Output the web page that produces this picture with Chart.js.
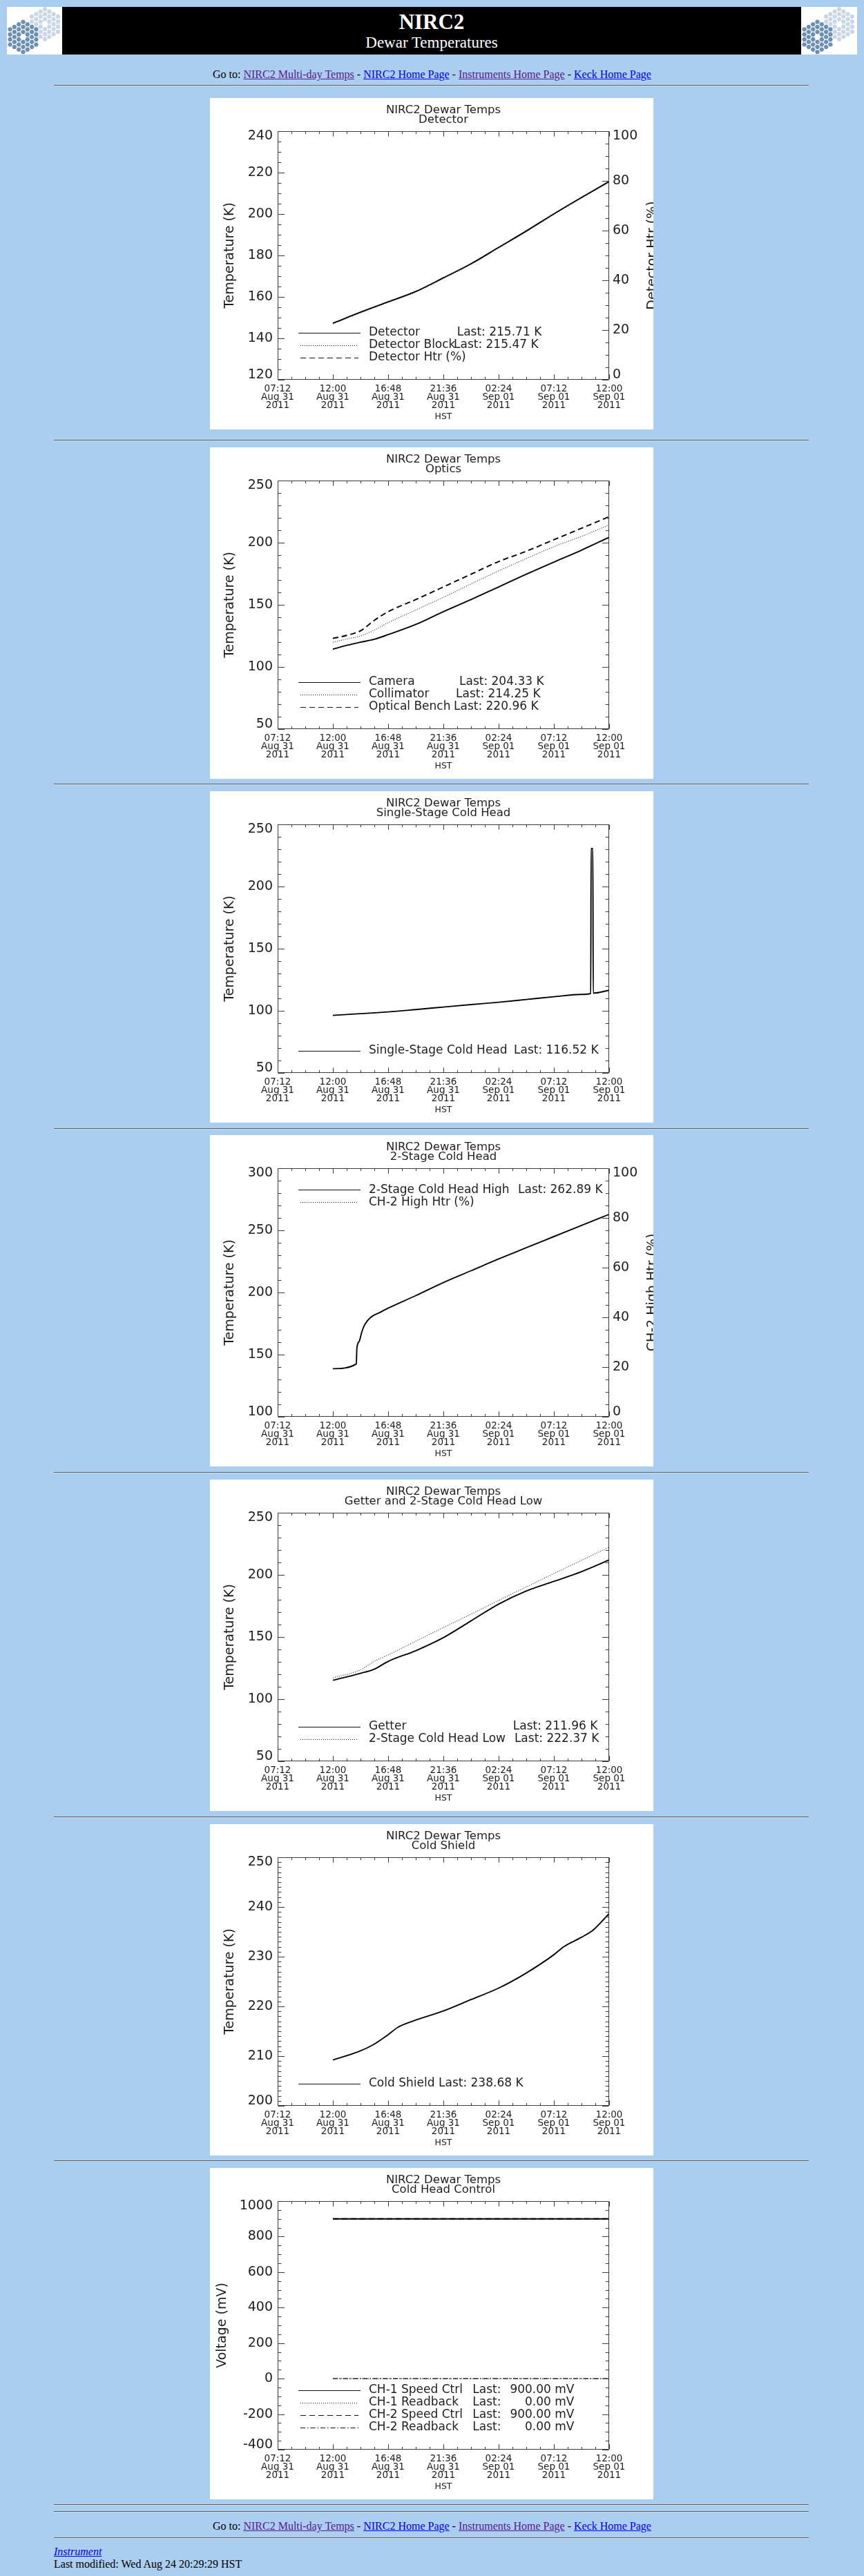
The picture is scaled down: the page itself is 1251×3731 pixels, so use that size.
<!DOCTYPE html>
<html lang="en">
<head>
<meta charset="utf-8">
<title>NIRC2 Dewar Temperatures</title>
<script src="https://cdn.jsdelivr.net/npm/chart.js@4.4.1/dist/chart.umd.min.js"></script>
<style>
html, body { margin:0; padding:0; background:#abcdef; }
body { width:1251px; height:3731px; position:relative; overflow:hidden; font-family:'Liberation Serif','Times New Roman',serif; color:#000; }
.logo { position:absolute; top:10px; width:80px; height:69px; background:#fff; overflow:hidden; }
.banner { position:absolute; left:90px; top:10px; width:1070px; height:69px; background:#000; color:#fff; text-align:center; }
.banner .t1 { position:absolute; left:0; right:0; top:4px; font-size:31px; line-height:36px; font-weight:bold; }
.banner .t2 { position:absolute; left:0; right:0; top:39px; font-size:23px; line-height:26px; }
.nav { position:absolute; left:0; width:1251px; text-align:center; font-size:16px; line-height:18px; white-space:nowrap; }
a { color:#0000ee; text-decoration:underline; }
a.visited { color:#551a8b; }
hr { position:absolute; left:78px; width:1093px; margin:0; height:0; border:0; border-top:1px solid #5e5e5e; border-bottom:1px solid #d0dcea; }
.panel { position:absolute; left:304px; width:642px; height:480px; background:#fff; overflow:hidden; }
.panel canvas { display:block; }
.foot { position:absolute; left:78px; font-size:16px; line-height:18px; white-space:nowrap; }
</style>
</head>
<body>
<div class="logo" style="left:10px"><svg class="keck" width="80" height="69"></svg></div>
<div class="banner"><div class="t1">NIRC2</div><div class="t2">Dewar Temperatures</div></div>
<div class="logo" style="left:1160px;width:81px"><svg class="keck" width="81" height="69"></svg></div>

<div class="nav" style="top:99px">Go to: <a class="visited" href="#">NIRC2 Multi-day Temps</a> - <a href="#">NIRC2 Home Page</a> - <a class="visited" href="#">Instruments Home Page</a> - <a href="#">Keck Home Page</a></div>
<hr style="top:123px">

<div class="panel" style="top:142px"><canvas id="c1" width="642" height="480"></canvas></div>
<hr style="top:637px">
<div class="panel" style="top:648px"><canvas id="c2" width="642" height="480"></canvas></div>
<hr style="top:1135px">
<div class="panel" style="top:1146px"><canvas id="c3" width="642" height="480"></canvas></div>
<hr style="top:1634px">
<div class="panel" style="top:1644px"><canvas id="c4" width="642" height="480"></canvas></div>
<hr style="top:2132px">
<div class="panel" style="top:2143px"><canvas id="c5" width="642" height="480"></canvas></div>
<hr style="top:2631px">
<div class="panel" style="top:2642px"><canvas id="c6" width="642" height="480"></canvas></div>
<hr style="top:3129px">
<div class="panel" style="top:3140px"><canvas id="c7" width="642" height="480"></canvas></div>
<hr style="top:3627px">
<hr style="top:3637px">
<div class="nav" style="top:3650px">Go to: <a class="visited" href="#">NIRC2 Multi-day Temps</a> - <a href="#">NIRC2 Home Page</a> - <a class="visited" href="#">Instruments Home Page</a> - <a href="#">Keck Home Page</a></div>
<hr style="top:3675px">
<div class="foot" style="top:3687px"><a href="#"><i>Instrument</i></a></div>
<div class="foot" style="top:3705px">Last modified: Wed Aug 24 20:29:29 HST</div>

<script>
// ---------- tick labels (x axis: minutes after 07:12 HST, Aug 31 2011) ----------
const xTickTimes = ['07:12', '12:00', '16:48', '21:36', '02:24', '07:12', '12:00'];
const xTickDates = ['Aug 31', 'Aug 31', 'Aug 31', 'Aug 31', 'Sep 01', 'Sep 01', 'Sep 01'];
const xTickYears = ['2011', '2011', '2011', '2011', '2011', '2011', '2011'];

// ---------- Detector ----------
const detTimes = [288, 432, 576, 720, 864, 1008, 1152, 1296, 1440, 1584, 1728];
const detectorTemp      = [147.3, 152.6, 157.6, 162.6, 169.2, 176.0, 183.9, 191.8, 200.1, 208.0, 215.71];
const detectorBlockTemp = [147.0, 152.3, 157.3, 162.3, 168.9, 175.7, 183.6, 191.5, 199.8, 207.7, 215.47];
const htrTimes = [288, 1728];
const detectorHtr = [0, 0];

// ---------- Optics ----------
const optTimes = [288, 360, 432, 504, 576, 720, 864, 1008, 1152, 1296, 1440, 1584, 1728];
const cameraTemp     = [114.3, 117.4, 119.9, 122.3, 126.0, 134.2, 144.5, 154.2, 164.4, 174.6, 184.4, 194.0, 204.33];
const collimatorTemp = [119.9, 122.4, 124.9, 129.7, 135.6, 145.8, 156.0, 166.8, 177.3, 187.2, 196.8, 205.1, 214.25];
const benchTemp      = [123.0, 125.4, 129.1, 137.5, 144.5, 154.2, 164.4, 174.6, 184.8, 193.1, 202.4, 211.6, 220.96];

// ---------- Single-Stage Cold Head ----------
const sscTimes = [288, 432, 576, 720, 864, 1008, 1152, 1296, 1440, 1584, 1632, 1634, 1643, 1645, 1728];
const sscTemp  = [96.3, 97.7, 99.1, 101.0, 103.0, 105.0, 106.9, 109.1, 111.3, 113.2, 113.9, 230.6, 230.6, 114.2, 116.52];

// ---------- 2-Stage Cold Head ----------
const ch2Times = [288, 410, 413, 425, 440, 455, 485, 530, 576, 720, 864, 1008, 1152, 1296, 1440, 1584, 1728];
const ch2HighTemp = [138.7, 142.4, 155.0, 160.6, 168.9, 174.4, 180.0, 183.7, 187.4, 197.5, 208.0, 217.5, 227.0, 236.0, 245.0, 254.0, 262.89];
const ch2HighHtr = [0, 0];

// ---------- Getter and 2-Stage Cold Head Low ----------
const getterTimes = [288, 432, 504, 576, 720, 864, 1008, 1152, 1296, 1440, 1584, 1728];
const getterTemp = [115.2, 120.8, 124.1, 130.4, 139.0, 149.5, 163.0, 176.5, 187.0, 194.8, 202.6, 211.96];
const ch2LowTemp = [117.1, 123.6, 130.5, 135.6, 146.6, 157.6, 168.4, 179.4, 190.3, 201.1, 211.7, 222.37];

// ---------- Cold Shield ----------
const shieldTimes = [288, 425, 500, 571, 627, 716, 861, 1007, 1152, 1295, 1440, 1492, 1582, 1649, 1728];
const shieldTemp  = [209.22, 210.94, 212.33, 214.18, 215.80, 217.19, 219.05, 221.36, 223.68, 226.69, 230.40, 232.02, 233.87, 235.50, 238.68];

// ---------- Cold Head Control ----------
const ctrlTimes = [288, 1728];
const ch1SpeedCtrl = [900, 900];
const ch1Readback = [0, 0];
const ch2SpeedCtrl = [900, 900];
const ch2Readback = [0, 0];

// ---------- styling ----------
const FONT = "'DejaVu Sans', sans-serif";
const INK = '#1e1e1e';
const LINE = '#000000';
const AXIS = '#3a3a3a';
const SOLID = [], DOT = [1, 2], DASH = [8, 5], DASHDOT = [7, 3, 1.5, 3];
const X_MIN = 0, X_MAX = 1728, X_STEP = 288, X_MINOR = 72;

Chart.defaults.font.family = FONT;
Chart.defaults.color = INK;

const pts = (xs, ys) => xs.map((x, i) => ({ x, y: ys[i] }));
function series(label, xs, ys, dash, extra) {
  const dotted = dash.length === 2 && dash[0] === 1;
  return Object.assign({
    label, data: pts(xs, ys), borderColor: dotted ? '#333' : LINE, borderDash: dash,
    borderWidth: dotted ? 1.2 : 1.9,
    pointRadius: 0, fill: false, cubicInterpolationMode: 'monotone',
    showLast: true, unit: 'K'
  }, extra || {});
}

function walk(min, max, step, minor, fn) {
  const n = Math.round((max - min) / minor);
  for (let i = 0; i <= n; i++) {
    const v = min + i * minor;
    const k = (v - min) / step;
    fn(v, Math.abs(k - Math.round(k)) < 1e-6);
  }
}

// IDL-style box, inward major/minor ticks, right-hand title and in-plot legend
const idlPlugin = {
  id: 'idl',
  afterDraw(chart, args, o) {
    const ctx = chart.ctx, a = chart.chartArea;
    const sx = chart.scales.x, sy = chart.scales.y, sy1 = chart.scales.y1;
    const L = Math.round(a.left) + 0.5, R = Math.round(a.right) - 0.5;
    const T = Math.round(a.top) + 0.5, B = Math.round(a.bottom) - 0.5;
    ctx.save();
    ctx.setLineDash([]);
    ctx.strokeStyle = AXIS; ctx.lineWidth = 1;
    ctx.beginPath();
    ctx.rect(L, T, R - L, B - T);
    walk(sx.min, sx.max, X_STEP, X_MINOR, (v, major) => {
      const p = Math.round(sx.getPixelForValue(v)) + 0.5, len = major ? 7.2 : 3.6;
      ctx.moveTo(p, B); ctx.lineTo(p, B - len);
      ctx.moveTo(p, T); ctx.lineTo(p, T + len);
    });
    const yTicks = (scale, step, minor, side) => walk(scale.min, scale.max, step, minor, (v, major) => {
      const p = Math.round(scale.getPixelForValue(v)) + 0.5, len = major ? 9.6 : 4.8;
      if (side !== 'right') { ctx.moveTo(L, p); ctx.lineTo(L + len, p); }
      if (side !== 'left') { ctx.moveTo(R, p); ctx.lineTo(R - len, p); }
    });
    if (sy1) { yTicks(sy, o.yStep, o.yMinor, 'left'); yTicks(sy1, o.y1Step, o.y1Minor, 'right'); }
    else yTicks(sy, o.yStep, o.yMinor, 'both');
    ctx.stroke();

    if (o.rightTitle) {
      ctx.save();
      ctx.translate(a.right + 63, (a.top + a.bottom) / 2);
      ctx.rotate(-Math.PI / 2);
      ctx.font = '19px ' + FONT; ctx.fillStyle = INK;
      ctx.textAlign = 'center'; ctx.textBaseline = 'middle';
      ctx.fillText(o.rightTitle, 0, 0);
      ctx.restore();
    }

    const lg = o.legend;
    if (lg) {
      const ds = chart.data.datasets, n = ds.length;
      ds.forEach((d, i) => {
        const y = lg.anchor === 'top' ? a.top + 31.3 + i * 18 : a.bottom - 32.5 - (n - 1 - i) * 18;
        const yy = Math.round(y) + 0.5;
        ctx.beginPath();
        ctx.setLineDash(d.borderDash || []);
        ctx.lineWidth = 1; ctx.strokeStyle = '#111';
        const dashed = (d.borderDash || []).length > 0;
        ctx.moveTo(a.left + (dashed ? 33 : 30), yy); ctx.lineTo(a.left + (dashed ? 117 : 120), yy);
        ctx.stroke();
        ctx.setLineDash([]);
        ctx.font = '17px ' + FONT; ctx.fillStyle = INK; ctx.textBaseline = 'middle';
        ctx.textAlign = 'left';
        ctx.fillText(d.label, a.left + 132, y);
        if (d.showLast) {
          const last = d.data[d.data.length - 1].y.toFixed(2);
          if (lg.valueX) {
            ctx.fillText('Last:', lg.lastX[i], y);
            ctx.textAlign = 'right';
            ctx.fillText(last + ' ' + d.unit, lg.valueX, y);
          } else {
            ctx.fillText('Last: ' + last + ' ' + d.unit, lg.lastX[i], y);
          }
        }
      });
    }
    ctx.restore();
  }
};

function edgeLabel(value) {
  const s = String(value);
  if (value === this.max) return ['', s];
  if (value === this.min) return [s, ''];
  return s;
}

function makeChart(id, spec) {
  const scales = {
    x: {
      type: 'linear', position: 'bottom', min: X_MIN, max: X_MAX,
      ticks: {
        stepSize: X_STEP, autoSkip: false, maxRotation: 0, minRotation: 0, padding: 7.5,
        color: INK, font: { size: 13.5, lineHeight: '12px' },
        callback: (v, i) => [xTickTimes[i], xTickDates[i], xTickYears[i]]
      },
      grid: { display: false, drawTicks: false }, border: { display: false },
      title: { display: true, text: 'HST', color: INK, font: { size: 12.5 }, padding: { top: 0, bottom: 10.5 } },
      afterFit: s => { s.height = 72; }
    },
    y: {
      type: 'linear', position: 'left', min: spec.y.min, max: spec.y.max,
      ticks: { stepSize: spec.y.step, autoSkip: false, padding: 7, color: INK,
               font: { size: 19, lineHeight: '14px' }, callback: edgeLabel },
      grid: { display: false, drawTicks: false }, border: { display: false },
      title: { display: true, text: spec.y.title, color: INK, font: { size: 19 },
               padding: { top: spec.y.titlePad, bottom: 0 } },
      afterFit: s => { s.width = 98; }
    }
  };
  if (spec.y1) {
    scales.y1 = {
      type: 'linear', position: 'right', min: spec.y1.min, max: spec.y1.max,
      ticks: { stepSize: spec.y1.step, autoSkip: false, padding: 5, color: INK,
               font: { size: 19, lineHeight: '14px' }, callback: edgeLabel },
      grid: { display: false, drawTicks: false }, border: { display: false },
      title: { display: false },
      afterFit: s => { s.width = 64; }
    };
  }
  return new Chart(document.getElementById(id), {
    type: 'line',
    data: { datasets: spec.datasets },
    options: {
      responsive: false, animation: false, devicePixelRatio: 1, events: [],
      layout: { padding: { left: 0, top: 0, bottom: 0, right: spec.y1 ? 0 : 64 } },
      scales,
      plugins: {
        legend: { display: false }, tooltip: { enabled: false },
        title: {
          display: true, fullSize: false, text: ['NIRC2 Dewar Temps', spec.subtitle], color: INK,
          font: { size: 16.5, weight: 'normal', lineHeight: '14px' }, padding: { top: 11, bottom: 9 }
        },
        idl: {
          yStep: spec.y.step, yMinor: spec.y.minor,
          y1Step: spec.y1 ? spec.y1.step : null, y1Minor: spec.y1 ? spec.y1.minor : null,
          rightTitle: spec.y1 ? spec.y1.title : null, legend: spec.legend
        }
      }
    },
    plugins: [idlPlugin]
  });
}

const TEMP = 'Temperature (K)';

makeChart('c1', {
  subtitle: 'Detector',
  y: { min: 120, max: 240, step: 20, minor: 5, title: TEMP, titlePad: 17.6 },
  y1: { min: 0, max: 100, step: 20, minor: 5, title: 'Detector Htr (%)' },
  datasets: [
    series('Detector', detTimes, detectorTemp, SOLID),
    series('Detector Block', detTimes, detectorBlockTemp, DOT),
    series('Detector Htr (%)', htrTimes, detectorHtr, DASH, { yAxisID: 'y1', showLast: false, borderWidth: 1, borderColor: AXIS })
  ],
  legend: { anchor: 'bottom', lastX: [357.7, 353, 0] }
});

makeChart('c2', {
  subtitle: 'Optics',
  y: { min: 50, max: 250, step: 50, minor: 10, title: TEMP, titlePad: 17.6 },
  datasets: [
    series('Camera', optTimes, cameraTemp, SOLID),
    series('Collimator', optTimes, collimatorTemp, DOT),
    series('Optical Bench', optTimes, benchTemp, DASH)
  ],
  legend: { anchor: 'bottom', lastX: [361, 356, 353] }
});

makeChart('c3', {
  subtitle: 'Single-Stage Cold Head',
  y: { min: 50, max: 250, step: 50, minor: 10, title: TEMP, titlePad: 17.6 },
  datasets: [
    series('Single-Stage Cold Head', sscTimes, sscTemp, SOLID)
  ],
  legend: { anchor: 'bottom', lastX: [440] }
});

makeChart('c4', {
  subtitle: '2-Stage Cold Head',
  y: { min: 100, max: 300, step: 50, minor: 10, title: TEMP, titlePad: 17.6 },
  y1: { min: 0, max: 100, step: 20, minor: 5, title: 'CH-2 High Htr (%)' },
  datasets: [
    series('2-Stage Cold Head High', ch2Times, ch2HighTemp, SOLID),
    series('CH-2 High Htr (%)', htrTimes, ch2HighHtr, DOT, { yAxisID: 'y1', showLast: false, borderWidth: 1, borderColor: AXIS })
  ],
  legend: { anchor: 'top', lastX: [446, 0] }
});

makeChart('c5', {
  subtitle: 'Getter and 2-Stage Cold Head Low',
  y: { min: 50, max: 250, step: 50, minor: 10, title: TEMP, titlePad: 17.6 },
  datasets: [
    series('Getter', getterTimes, getterTemp, SOLID),
    series('2-Stage Cold Head Low', getterTimes, ch2LowTemp, DOT)
  ],
  legend: { anchor: 'bottom', lastX: [438.8, 440.9] }
});

makeChart('c6', {
  subtitle: 'Cold Shield',
  y: { min: 200, max: 250, step: 10, minor: 1, title: TEMP, titlePad: 17.6 },
  datasets: [
    series('Cold Shield', shieldTimes, shieldTemp, SOLID)
  ],
  legend: { anchor: 'bottom', lastX: [331] }
});

makeChart('c7', {
  subtitle: 'Cold Head Control',
  y: { min: -400, max: 1000, step: 200, minor: 50, title: 'Voltage (mV)', titlePad: 7 },
  datasets: [
    series('CH-1 Speed Ctrl', ctrlTimes, ch1SpeedCtrl, SOLID, { unit: 'mV' }),
    series('CH-1 Readback', ctrlTimes, ch1Readback, DOT, { unit: 'mV' }),
    series('CH-2 Speed Ctrl', ctrlTimes, ch2SpeedCtrl, DASH, { unit: 'mV' }),
    series('CH-2 Readback', ctrlTimes, ch2Readback, DASHDOT, { unit: 'mV', borderWidth: 1.2 })
  ],
  legend: { anchor: 'bottom', lastX: [380.3, 380.3, 380.3, 380.3], valueX: 527.5 }
});

// ---------- Keck segmented-mirror logos ----------
function drawLogo(svg) {
  const NS = 'http://www.w3.org/2000/svg';
  const R = 4.2, r = 3.5;
  function cluster(cx, cy, fill) {
    for (let q = -3; q <= 3; q++) {
      for (let s = -3; s <= 3; s++) {
        const t = -q - s;
        const d = Math.max(Math.abs(q), Math.abs(s), Math.abs(t));
        if (d === 0 || d > 3) continue;
        const x = cx + 1.5 * R * q, y = cy + Math.sqrt(3) * R * (s + q / 2);
        const p = [];
        for (let k = 0; k < 6; k++) {
          const ang = Math.PI / 3 * k;
          p.push((x + r * Math.cos(ang)).toFixed(2) + ',' + (y + r * Math.sin(ang)).toFixed(2));
        }
        const poly = document.createElementNS(NS, 'polygon');
        poly.setAttribute('points', p.join(' '));
        poly.setAttribute('fill', fill);
        svg.appendChild(poly);
      }
    }
  }
  cluster(55, 25, '#c8d6e6');
  cluster(23.5, 43.5, '#6c8fb6');
}
document.querySelectorAll('svg.keck').forEach(drawLogo);
</script>
</body>
</html>
